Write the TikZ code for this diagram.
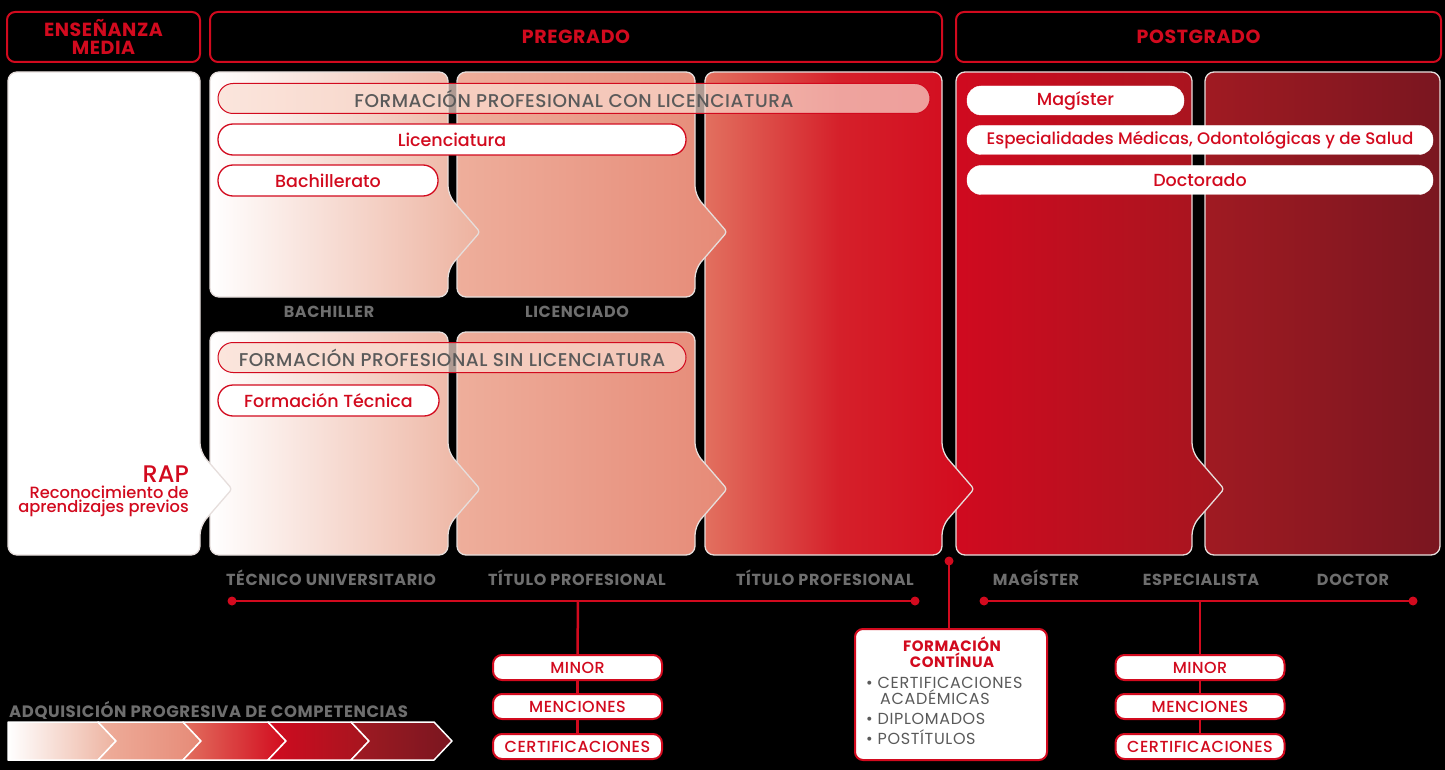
\documentclass[tikz,border=0pt]{standalone}
\usepackage{fontspec}
\setmainfont{Poppins}
\IfFontExistsTF{Poppins Medium}{\newfontfamily\pmed{Poppins Medium}}{\newcommand{\pmed}{\mdseries}}
\IfFontExistsTF{Poppins SemiBold}{\newfontfamily\psemi{Poppins SemiBold}}{\newcommand{\psemi}{\bfseries}}
\definecolor{red1}{HTML}{D20A1E}
\definecolor{txtgray}{HTML}{5A5A5A}
\definecolor{lblgray}{HTML}{6E6E6E}
\definecolor{pline}{HTML}{E6DEDC}
\definecolor{pillfill}{HTML}{FADCD0}
\definecolor{c1r}{HTML}{EDB29F}
\definecolor{c2l}{HTML}{EEAE9B}
\definecolor{c2r}{HTML}{E68A77}
\definecolor{c3l}{HTML}{E2705F}
\definecolor{c3m}{HTML}{D5202A}
\definecolor{c3r}{HTML}{D20A1E}
\definecolor{c4l}{HTML}{D00A1F}
\definecolor{c4r}{HTML}{A5161F}
\definecolor{c5l}{HTML}{A01A22}
\definecolor{c5r}{HTML}{7A1620}
\newcommand{\hdrfont}{\bfseries\fontsize{19}{18}\selectfont\addfontfeatures{LetterSpace=3}}
\newcommand{\pillfont}{\pmed\fontsize{17.5}{17.5}\selectfont}
\newcommand{\gpillfont}{\pmed\fontsize{18.5}{18.5}\selectfont\addfontfeatures{LetterSpace=3}}
\newcommand{\lblfont}{\bfseries\fontsize{16}{16}\selectfont\addfontfeatures{LetterSpace=4}}
\newcommand{\spillfont}{\pmed\fontsize{16}{16}\selectfont\addfontfeatures{LetterSpace=3}}
\newcommand{\fcfont}{\fontsize{16}{16}\selectfont\addfontfeatures{LetterSpace=4}}
\newcommand{\chevpanel}[6]{%
  \path[panelline,#6] (#1,{(#2+#4)/2}) [rounded corners=9pt] -- (#1,#2) -- (#3,#2) -- (#3,{#5-37}) [rounded corners=3pt] -- ({#3+32},#5) [rounded corners=9pt] -- (#3,{#5+37}) -- (#3,#4) -- (#1,#4) -- cycle;}
\newcommand{\plainpanel}[5]{%
  \path[panelline,rounded corners=9pt,#5] (#1,#2) rectangle (#3,#4);}
\begin{document}
\begin{tikzpicture}[x=1pt,y=-1pt,
  panelline/.style={draw=pline,line width=1.3pt,line join=round},
  hdr/.style={draw=red1,line width=2pt,rounded corners=8pt,text=red1,font=\hdrfont,align=center,inner sep=0pt,minimum height=50pt},
  pillw/.style={draw=red1,line width=1.3pt,fill=white,rounded corners=15pt,text=red1,font=\pillfont,inner sep=0pt,minimum height=31pt},
  pillt/.style={draw=red1,line width=1pt,fill=pillfill,fill opacity=0.7,text opacity=1,rounded corners=15pt,text=txtgray,font=\gpillfont,inner sep=0pt,minimum height=30pt},
  pillpg/.style={draw=white,fill=white,rounded corners=14pt,text=red1,font=\pillfont,inner sep=0pt,minimum height=29pt},
  lbl/.style={text=lblgray,font=\lblfont,inner sep=0pt,anchor=base},
  spill/.style={draw=red1,line width=2pt,fill=white,rounded corners=9pt,text=red1,font=\spillfont,inner sep=0pt,minimum width=169pt,minimum height=25pt},
  tline/.style={draw=red1,line width=2.5pt},
  dot/.style={fill=red1},
  segline/.style={draw=white,line width=1.5pt,line join=round},
]
\useasboundingbox (0,0) rectangle (1445,770);
\fill[black] (0,0) rectangle (1445,770);

% headers
\node[hdr,minimum width=193pt] (hens) at (103.5,37) {ENSEÑANZA\\MEDIA};
\node[hdr,minimum width=732pt] (hpre) at (576,37) {PREGRADO};
\node[hdr,minimum width=485pt] (hpost) at (1198.5,37) {POSTGRADO};

% panels (right to left so chevrons overlap)
\plainpanel{1205}{72}{1440}{555}{left color=c5l,right color=c5r}
\chevpanel{956}{72}{1192}{555}{489}{left color=c4l,right color=c4r}
\chevpanel{705}{72}{942}{555}{489}{left color=c3l,right color=c3r,middle color=c3m}
\chevpanel{457}{332}{695}{555}{489}{left color=c2l,right color=c2r}
\chevpanel{457}{72}{695}{297}{232}{left color=c2l,right color=c2r}
\chevpanel{210}{332}{448}{555}{489}{left color=white,right color=c1r}
\chevpanel{210}{72}{448}{297}{232}{left color=white,right color=c1r}
\chevpanel{8}{72}{200}{555}{489}{fill=white}

% pills
\node[pillt,minimum width=712pt] (fpcl) at (574,98.5) {FORMACIÓN PROFESIONAL CON LICENCIATURA};
\node[pillw,minimum width=468pt] (lic) at (452,139.5) {Licenciatura};
\node[pillw,minimum width=220pt] (bach) at (328,180.5) {Bachillerato};
\node[pillt,minimum width=468pt] (fpsl) at (452,357.5) {FORMACIÓN PROFESIONAL SIN LICENCIATURA};
\node[pillw,minimum width=221pt] (ftec) at (328.5,400.5) {Formación Técnica};
\node[pillpg,minimum width=217pt] (mag) at (1075.5,100.5) {Magíster};
\node[pillpg,minimum width=466pt,font=\pmed\fontsize{16.7}{16.7}\selectfont] (esp) at (1200,140) {Especialidades Médicas, Odontológicas y de Salud};
\node[pillpg,minimum width=466pt] (doc) at (1200,180) {Doctorado};

% RAP
\node[anchor=base east,text=red1,font=\pmed\fontsize{24}{24}\selectfont,inner sep=0pt] (rap) at (189,482) {RAP};
\node[anchor=north east,text=red1,font=\pmed\fontsize{16.3}{14}\selectfont,align=right,inner sep=0pt] (rapt) at (189,486) {Reconocimiento de\\aprendizajes previos};

% labels
\node[lbl] (lbach) at (329,317) {BACHILLER};
\node[lbl] (llic) at (577,317) {LICENCIADO};
\node[lbl] (ltec) at (331,585) {TÉCNICO UNIVERSITARIO};
\node[lbl] (ltit1) at (577,585) {TÍTULO PROFESIONAL};
\node[lbl] (ltit2) at (825,585) {TÍTULO PROFESIONAL};
\node[lbl] (lmag) at (1036,585) {MAGÍSTER};
\node[lbl] (lesp) at (1201,585) {ESPECIALISTA};
\node[lbl] (ldoc) at (1353,585) {DOCTOR};

% timelines
\coordinate (t1s) at (232,601);
\coordinate (t1e) at (915,601);
\coordinate (t1m) at (578,601);
\coordinate (t2s) at (984,601);
\coordinate (t2e) at (1413,601);
\coordinate (t2m) at (1200,601);
\coordinate (fcd) at (949,561);
\draw[tline] (t1s) -- (t1e);
\draw[tline] (t2s) -- (t2e);
\fill[dot] (t1s) circle[radius=4.5pt];
\fill[dot] (t1e) circle[radius=4.5pt];
\fill[dot] (t2s) circle[radius=4.5pt];
\fill[dot] (t2e) circle[radius=4.5pt];
\fill[dot] (fcd) circle[radius=4.5pt];

% small pills
\node[spill] (minor1) at (577.5,667.5) {MINOR};
\node[spill] (menc1) at (577.5,706.5) {MENCIONES};
\node[spill] (cert1) at (577.5,746.5) {CERTIFICACIONES};
\node[spill] (minor2) at (1200,667.5) {MINOR};
\node[spill] (menc2) at (1200,706.5) {MENCIONES};
\node[spill] (cert2) at (1200,746.5) {CERTIFICACIONES};
\draw[tline] (t1m) -- (minor1.north);
\draw[tline] (minor1.south) -- (menc1.north);
\draw[tline] (menc1.south) -- (cert1.north);
\draw[tline] (t2m) -- (minor2.north);
\draw[tline] (minor2.south) -- (menc2.north);
\draw[tline] (menc2.south) -- (cert2.north);

% formacion continua
\node[draw=red1,line width=2pt,fill=white,rounded corners=8pt,minimum width=192pt,minimum height=131pt,inner sep=0pt] (fc) at (951,694.5) {};
\draw[tline] (fcd) -- (fc.north -| fcd);
\node[anchor=base,text=red1,font=\bfseries\fontsize{15}{16}\selectfont\addfontfeatures{LetterSpace=3.5},inner sep=0pt] (fct1) at (952,651) {FORMACIÓN};
\node[anchor=base,text=red1,font=\bfseries\fontsize{15}{16}\selectfont\addfontfeatures{LetterSpace=3.5},inner sep=0pt] (fct2) at (952,667) {CONTÍNUA};
\node[anchor=base west,text=txtgray,font=\fcfont,inner sep=0pt] (b1) at (866,688) {• CERTIFICACIONES};
\node[anchor=base west,text=txtgray,font=\fcfont,inner sep=0pt] (b1b) at (880,704) {ACADÉMICAS};
\node[anchor=base west,text=txtgray,font=\fcfont,inner sep=0pt] (b2) at (866,724) {• DIPLOMADOS};
\node[anchor=base west,text=txtgray,font=\fcfont,inner sep=0pt] (b3) at (866,744) {• POSTÍTULOS};

% bottom progress bar
\node[anchor=base west,text=lblgray,font=\bfseries\fontsize{16.5}{16.5}\selectfont\addfontfeatures{LetterSpace=3.5},inner sep=0pt] (adq) at (9,717) {ADQUISICIÓN PROGRESIVA DE COMPETENCIAS};
\path[segline,left color=white,right color=c1r] (8,722) -- (98,722) -- (116,741) -- (98,760) -- (8,760) -- cycle;
\path[segline,left color=c2l,right color=c2r] (98,722) -- (183,722) -- (201,741) -- (183,760) -- (98,760) -- (116,741) -- cycle;
\path[segline,left color=c3l,right color=c3r] (183,722) -- (268,722) -- (286,741) -- (268,760) -- (183,760) -- (201,741) -- cycle;
\path[segline,left color=c4l,right color=c4r] (268,722) -- (351,722) -- (369,741) -- (351,760) -- (268,760) -- (286,741) -- cycle;
\path[segline,left color=c5l,right color=c5r] (351,722) -- (434,722) -- (452,741) -- (434,760) -- (351,760) -- (369,741) -- cycle;
\end{tikzpicture}
\end{document}
